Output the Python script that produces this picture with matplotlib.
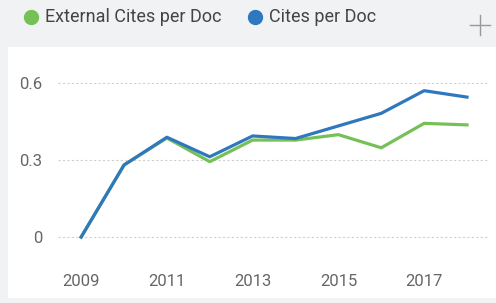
import matplotlib
matplotlib.use("Agg")
import matplotlib.pyplot as plt
from matplotlib.lines import Line2D
from matplotlib.patches import Rectangle

years = [2009, 2010, 2011, 2012, 2013, 2014, 2015, 2016, 2017, 2018]
cites_per_doc = [0.0, 0.28, 0.388, 0.312, 0.393, 0.383, 0.432, 0.481, 0.569, 0.544]
external_cites = [0.0, 0.28, 0.385, 0.293, 0.377, 0.377, 0.398, 0.347, 0.442, 0.436]
xticks = [2009, 2011, 2013, 2015, 2017]
yticks = [0, 0.3, 0.6]
ytick_labels = ["0", "0.3", "0.6"]

GREEN = "#76c057"
BLUE = "#2f78bd"
W, H = 496, 303

plt.rcParams['font.family'] = ['Roboto', 'DejaVu Sans']

fig = plt.figure(figsize=(W / 100, H / 100), dpi=100)
fig.patch.set_facecolor("#f1f2f4")

# white panel under the chart
fig.add_artist(Rectangle((8 / W, 1 - 298 / H), (W - 8) / W, (298 - 47) / H,
                         transform=fig.transFigure, facecolor="white",
                         edgecolor="none", zorder=0))

ax = fig.add_axes([58 / W, 1 - 245 / H, 430 / W, 170 / H])
ax.set_facecolor("none")
ax.plot(years, external_cites, color=GREEN, lw=2.3, solid_joinstyle="round")
ax.plot(years, cites_per_doc, color=BLUE, lw=2.3, solid_joinstyle="round")

ax.set_xlim(2008.46, 2018.49)
ax.set_ylim(-0.031, 0.630)
ax.set_xticks(xticks)
ax.set_xticklabels([str(x) for x in xticks])
ax.set_yticks(yticks)
ax.set_yticklabels(ytick_labels)
ax.tick_params(length=0, colors="#666666", labelsize=12)
ax.tick_params(axis="x", pad=21)
ax.tick_params(axis="y", pad=11)
for s in ax.spines.values():
    s.set_visible(False)
ax.grid(axis="y", color="#cfcfcf", lw=0.8, ls=(0, (2, 2)))
ax.set_axisbelow(True)

# legend in the header strip
for cx, label, col in [(31, "External Cites per Doc", GREEN), (255, "Cites per Doc", BLUE)]:
    fig.add_artist(Line2D([cx / W], [1 - 17 / H], marker="o", markersize=10,
                          color=col, transform=fig.transFigure))
    fig.text((cx + 14) / W, 1 - 17 / H, label, fontsize=13, color="#444444",
             va="center", ha="left")

# "+" button at the right of the header
fig.add_artist(Line2D([470 / W, 490 / W], [1 - 25 / H, 1 - 25 / H],
                      color="#999999", lw=1.0, transform=fig.transFigure))
fig.add_artist(Line2D([480 / W, 480 / W], [1 - 15 / H, 1 - 35 / H],
                      color="#999999", lw=1.0, transform=fig.transFigure))

fig.savefig("out.png", dpi=100, facecolor=fig.get_facecolor())
